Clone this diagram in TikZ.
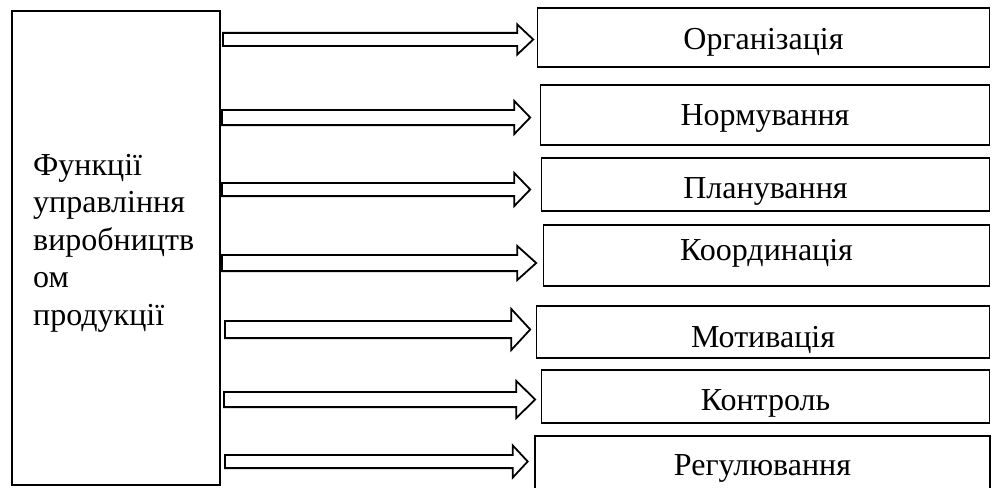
\documentclass[tikz,border=0pt]{standalone}
\usepackage{fontspec}
\setmainfont{Liberation Serif}
\usetikzlibrary{calc}
\tikzset{
  frame/.style={draw, line width=1.8pt, inner sep=0pt, outer sep=0pt},
  funcbox/.style={frame, anchor=base, font=\fontsize{32}{37}\selectfont},
  fatline/.style={draw, line width=1.8pt, fill=white, line join=miter},
  lefttext/.style={anchor=base west, align=left, inner sep=0pt, font=\fontsize{32}{37.5}\selectfont},
}
% #1 from node, #2 to node, #3 y, #4 start shift, #5 gap, #6 head length, #7 shaft half, #8 head half
\newcommand\fatarrow[8]{%
  \path[fatline] let \p1=(#1.east), \p2=(#2.west), \p3=(0,#3) in
    (\x1+#4pt,\y3+#7pt) -- (\x2-#5pt-#6pt,\y3+#7pt) -- (\x2-#5pt-#6pt,\y3+#8pt)
    -- (\x2-#5pt,\y3) -- (\x2-#5pt-#6pt,\y3-#8pt) -- (\x2-#5pt-#6pt,\y3-#7pt)
    -- (\x1+#4pt,\y3-#7pt) -- cycle;}
\begin{document}
\begin{tikzpicture}[x=1pt,y=-1pt]
\useasboundingbox (0,0) rectangle (992,487);
\fill[white] (0,0) rectangle (992,487);

\node[frame, minimum width=208pt, minimum height=474pt] (fn) at (116,248) {};
\node[lefttext] (fntext) at (33,325) {Функції\\управління\\виробництв\\ом\\продукції};

\node[funcbox, minimum width=452pt, text height=41pt, text depth=18pt] (b1) at (763.5,49) {Організація};
\node[funcbox, minimum width=449pt, text height=40pt, text depth=20pt] (b2) at (765,125) {Нормування};
\node[funcbox, minimum width=448pt, text height=40pt, text depth=13pt] (b3) at (765.5,198) {Планування};
\node[funcbox, minimum width=446pt, text height=35pt, text depth=26pt] (b4) at (766.5,260) {Координація};
\node[funcbox, minimum width=453pt, text height=41pt, text depth=11pt] (b5) at (763,347) {Мотивація};
\node[funcbox, minimum width=448pt, text height=40pt, text depth=13pt] (b6) at (765.5,410) {Контроль};
\node[funcbox, minimum width=455pt, text height=39pt, text depth=20pt] (b7) at (762.5,475) {Регулювання};

\fatarrow{fn}{b1}{39.5}{3}{4.3}{16}{6.6}{15.1}
\fatarrow{fn}{b2}{117.5}{2}{10.3}{16}{7.6}{16.6}
\fatarrow{fn}{b3}{189.5}{2}{11.3}{16}{6.6}{16.6}
\fatarrow{fn}{b4}{263}{2}{7.3}{19}{8.1}{17.1}
\fatarrow{fn}{b5}{329.5}{5}{6.3}{19}{8.6}{20.6}
\fatarrow{fn}{b6}{399.5}{4}{6.3}{19}{7.6}{18.6}
\fatarrow{fn}{b7}{461.5}{5}{7.3}{15}{6.6}{16.1}
\end{tikzpicture}
\end{document}
